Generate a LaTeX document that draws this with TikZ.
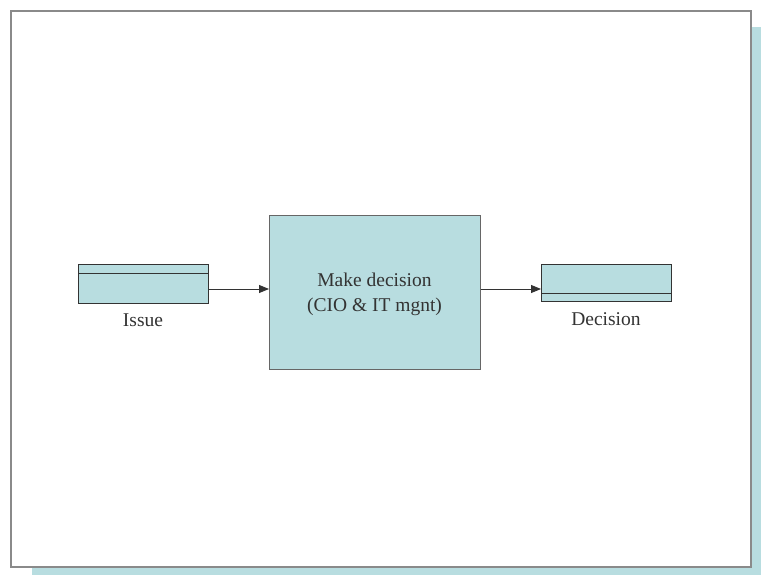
\documentclass[tikz,border=0pt]{standalone}
\usepackage{fontspec}
\setmainfont{Liberation Serif}
\usetikzlibrary{arrows.meta}
\definecolor{boxfill}{HTML}{B8DDE0}
\definecolor{framegray}{HTML}{8A8A8A}
\definecolor{inkgray}{HTML}{333333}
\begin{document}
\begin{tikzpicture}[x=1pt,y=-1pt,
  txt/.style={font=\fontsize{19.5}{25}\selectfont, text=inkgray, align=center, inner sep=0pt},
  store/.style={draw=inkgray, fill=boxfill, line width=1pt},
  procbox/.style={draw=black!60, fill=boxfill, line width=1pt},
  flow/.style={draw=inkgray, line width=1pt, -{Triangle[length=10pt,width=8pt]}}]
  \useasboundingbox (0,0) rectangle (761,575);
  % page with drop shadow
  \fill[boxfill] (32,27) rectangle (761,575);
  \filldraw[fill=white, draw=framegray, line width=1.6pt] (11,11) rectangle (751,567);
  % data stores
  \draw[store] (78,264) rectangle (208,303);
  \draw[inkgray, line width=1pt] (78,273) -- (208,273);
  \node[coordinate] (issue) at (208,289) {};
  \node[txt] (issuelbl) at (143,320) {Issue};
  \draw[store] (541,264) rectangle (671,301.5);
  \draw[inkgray, line width=1pt] (541,293) -- (671,293);
  \node[coordinate] (decision) at (541,289) {};
  \node[txt] (decisionlbl) at (606,319) {Decision};
  % process
  \node[procbox, minimum width=211pt, minimum height=154pt, anchor=north west] (proc) at (269,215) {};
  \node[txt] (proctxt) at (374.5,294) {Make decision\\(CIO \& IT mgnt)};
  \draw[flow] (issue) -- (proc.west |- issue);
  \draw[flow] (proc.east |- decision) -- (decision);
\end{tikzpicture}
\end{document}
